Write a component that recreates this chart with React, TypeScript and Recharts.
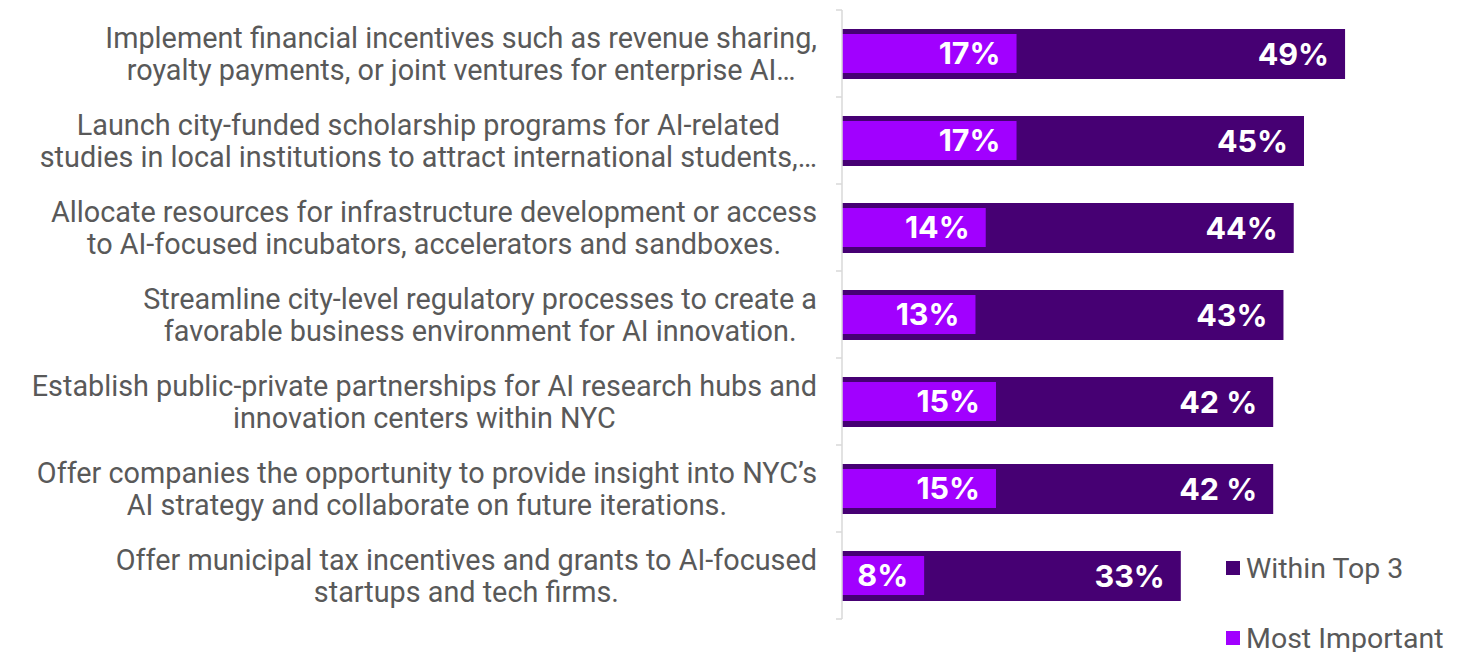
import React from "react";
import { BarChart, Bar, XAxis, YAxis, Legend, LabelList } from "recharts";

const categories = [
  "Implement financial incentives such as revenue sharing,\nroyalty payments, or joint ventures for enterprise AI…",
  "Launch city-funded scholarship programs for AI-related\nstudies in local institutions to attract international students,…",
  "Allocate resources for infrastructure development or access\nto AI-focused incubators,  accelerators and sandboxes.",
  "Streamline city-level regulatory processes to create a\nfavorable business environment for AI innovation.",
  "Establish public-private partnerships for AI research hubs and\ninnovation centers within NYC",
  "Offer companies the opportunity to provide insight into NYC’s\nAI strategy and collaborate on future iterations.",
  "Offer municipal tax incentives and grants to AI-focused\nstartups and tech firms.",
];
const withinTop3 = [49, 45, 44, 43, 42, 42, 33];
const mostImportant = [17, 17, 14, 13, 15, 15, 8];
const withinTop3Labels = ["49%", "45%", "44%", "43%", "42 %", "42 %", "33%"];
const mostImportantLabels = ["17%", "17%", "14%", "13%", "15%", "15%", "8%"];
const legendOrder = ["Within Top 3", "Most Important"];

const data = categories.map((name, i) => ({
  name,
  top3: withinTop3[i],
  most: mostImportant[i],
  top3Label: withinTop3Labels[i],
  mostLabel: mostImportantLabels[i],
}));

const W = 1480;
const H = 652;
const MARGIN = { top: 10, right: 22, bottom: 33, left: 0 };
const AXIS_W = 842;
const BAND = (H - MARGIN.top - MARGIN.bottom) / categories.length;
const LABEL_RIGHT = 817;
const CAT_FONT = "Roboto";
const CAT_SIZE = 28.8;
const TEXT_GREY = "#595959";
const AXIS_GREY = "#d9d9d9";
const DARK = "#460073";
const BRIGHT = "#A100FF";
const VALUE_FONT = "Inter";
const VALUE_SIZE = 30.5;

let ctx: CanvasRenderingContext2D | null = null;
function measure(t: string): number {
  if (!ctx) {
    const c = document.createElement("canvas");
    ctx = c.getContext("2d");
  }
  if (!ctx) return t.length * CAT_SIZE * 0.5;
  ctx.font = `${CAT_SIZE}px ${CAT_FONT}`;
  return ctx.measureText(t).width;
}

function CategoryTick(props: any) {
  const { y, payload, index } = props;
  const lines: string[] = String(payload.value).split("\n");
  const maxW = Math.max(...lines.map(measure));
  const cx = LABEL_RIGHT - maxW / 2;
  const n = lines.length;
  return (
    <g>
      <text textAnchor="middle" fill={TEXT_GREY} fontSize={CAT_SIZE} fontFamily={CAT_FONT}>
        {lines.map((l, i) => (
          <tspan key={i} x={cx} y={y + (i - (n - 1) / 2) * 32} dy="0.35em">
            {l}
          </tspan>
        ))}
      </text>
      <line
        x1={AXIS_W - 6}
        x2={AXIS_W}
        y1={y - BAND / 2}
        y2={y - BAND / 2}
        stroke={AXIS_GREY}
        strokeWidth={1.5}
      />
      {index === categories.length - 1 && (
        <line
          x1={AXIS_W - 6}
          x2={AXIS_W}
          y1={y + BAND / 2}
          y2={y + BAND / 2}
          stroke={AXIS_GREY}
          strokeWidth={1.5}
        />
      )}
    </g>
  );
}

function LegendContent(props: any) {
  const payload = [...(props.payload || [])].sort(
    (a: any, b: any) => legendOrder.indexOf(a.value) - legendOrder.indexOf(b.value)
  );
  return (
    <div>
      {payload.map((p: any, i: number) => (
        <div
          key={i}
          style={{
            display: "flex",
            alignItems: "center",
            height: 70,
            fontFamily: CAT_FONT,
            fontSize: 28.5,
            color: TEXT_GREY,
            whiteSpace: "nowrap",
          }}
        >
          <span
            style={{
              display: "inline-block",
              width: 14,
              height: 14,
              background: p.color,
              marginRight: 6,
            }}
          />
          <span>{p.value}</span>
        </div>
      ))}
    </div>
  );
}

export default function App() {
  return (
    <div style={{ position: "absolute", left: 0, top: 0, width: W, height: H, background: "#fff" }}>
      <BarChart width={W} height={H} data={data} layout="vertical" margin={MARGIN}>
        <XAxis type="number" domain={[0, 60]} hide />
        <YAxis
          yAxisId="a"
          type="category"
          dataKey="name"
          width={AXIS_W}
          axisLine={{ stroke: AXIS_GREY, strokeWidth: 1.5 }}
          tickLine={false}
          tick={<CategoryTick />}
          interval={0}
        />
        <YAxis yAxisId="b" type="category" dataKey="name" hide />
        <Legend
          layout="vertical"
          align="center"
          verticalAlign="middle"
          content={<LegendContent />}
          wrapperStyle={{ position: "absolute", left: 1226, top: 533, width: 254 }}
        />
        <Bar yAxisId="a" dataKey="top3" name="Within Top 3" fill={DARK} barSize={50} isAnimationActive={false}>
          <LabelList
            dataKey="top3Label"
            position="insideRight"
            offset={16}
            fill="#ffffff"
            fontSize={VALUE_SIZE}
            fontWeight={700}
            fontFamily={VALUE_FONT}
          />
        </Bar>
        <Bar yAxisId="b" dataKey="most" name="Most Important" fill={BRIGHT} barSize={39} isAnimationActive={false}>
          <LabelList
            dataKey="mostLabel"
            position="insideRight"
            offset={16}
            fill="#ffffff"
            fontSize={VALUE_SIZE}
            fontWeight={700}
            fontFamily={VALUE_FONT}
          />
        </Bar>
      </BarChart>
    </div>
  );
}
